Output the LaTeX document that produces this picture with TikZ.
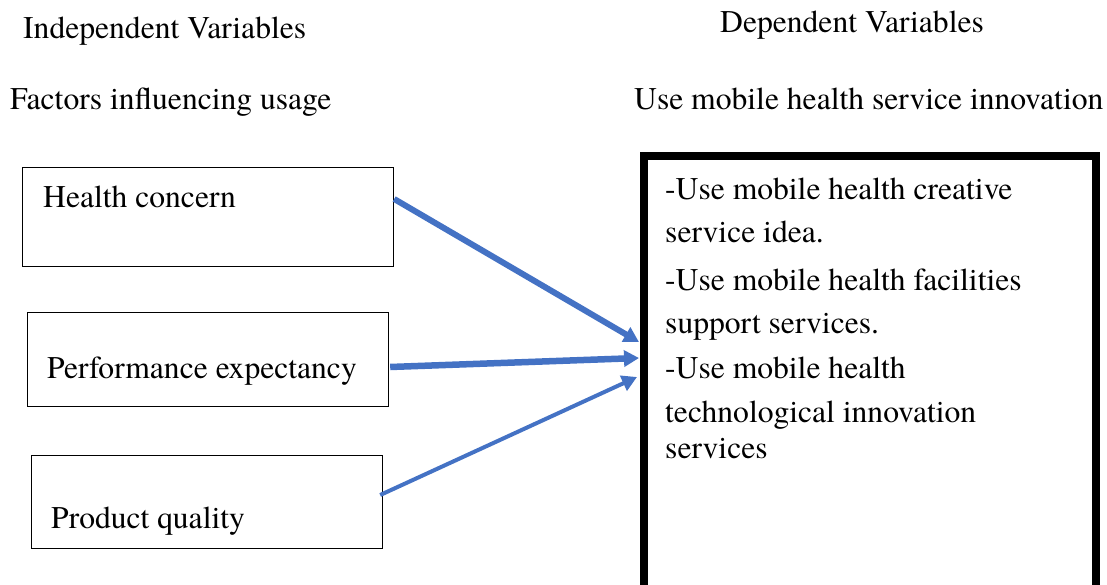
\documentclass[tikz,border=0pt]{standalone}
\usepackage{fontspec}
\setmainfont{texgyretermes}[Extension=.otf, UprightFont=*-regular,
  BoldFont=*-bold, ItalicFont=*-italic, BoldItalicFont=*-bolditalic]
\usetikzlibrary{arrows.meta, positioning, calc}
\definecolor{linkblue}{RGB}{68,114,196}

\tikzset{
  txt/.style={font=\rmfamily\fontsize{31.6}{38}\selectfont, inner sep=0pt, anchor=base west},
  factorbox/.style={draw, line width=1.2pt, anchor=north west, inner sep=0pt},
  link/.style={linkblue, line width=#1, -{Triangle[length=15pt, width=16pt]}},
}

\begin{document}
\begin{tikzpicture}[x=1pt, y=-1pt]
  \useasboundingbox (0,0) rectangle (1107,585);
  % column headings
  \node[txt] (indep) at (23,39) {Independent Variables};
  \node[txt] (factors) at (10,110) {Factors influencing usage};
  \node[txt] (dep) at (720,33) {Dependent Variables};
  \node[txt] (usehead) at (634,110) {Use mobile health service innovation};
  % factor boxes
  \node[factorbox, minimum width=371pt, minimum height=99pt] (health) at (22,167) {};
  \node[factorbox, minimum width=361pt, minimum height=94pt] (perf) at (27,312) {};
  \node[factorbox, minimum width=351pt, minimum height=93pt] (quality) at (31,455) {};
  \node[txt] (healthlbl) at (43,208) {Health concern};
  \node[txt] (perflbl) at (47,378) {Performance expectancy};
  \node[txt] (qualitylbl) at (51,528) {Product quality};
  % outcome box, its bottom edge runs off the page
  \node[draw, line width=8pt, anchor=north west, inner sep=0pt,
        minimum width=452pt, minimum height=442pt] (usage) at (640,152) {};
  \foreach \y/\t [count=\i] in {200/-Use mobile health creative, 242/service idea.,
      290/-Use mobile health facilities, 333/support services.,
      378/-Use mobile health, 422/technological innovation, 458/services}
    \node[txt] (item\i) at (665,\y) {\t};
  % arrows into the outcome box
  \draw[link=6pt] ($(health.north east)+(0,32)$) -- ($(usage.north west)+(-1,190)$);
  \draw[link=6.5pt] ($(perf.north east)+(1,55)$) -- ($(usage.north west)+(-1,206)$);
  \draw[link=4pt] ($(quality.north east)+(-3,40)$) -- ($(usage.north west)+(-3,225)$);
\end{tikzpicture}
\end{document}
